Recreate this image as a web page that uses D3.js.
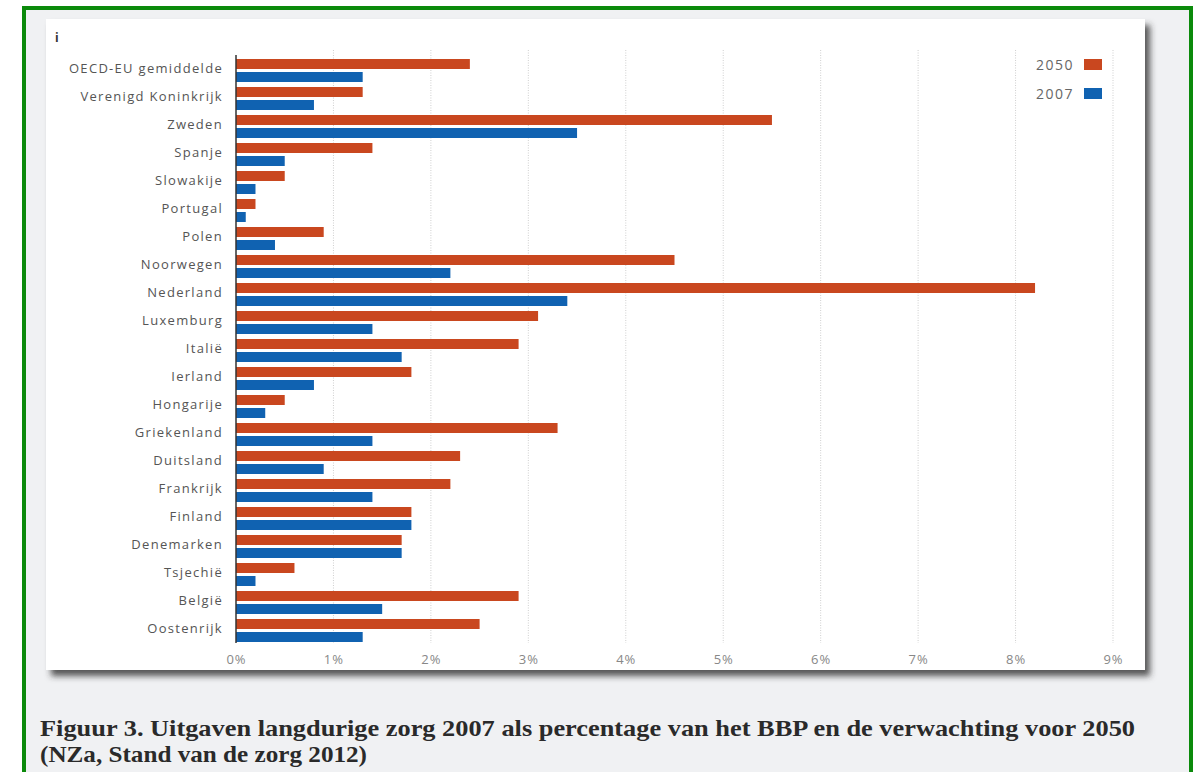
<!DOCTYPE html>
<html>
<head>
<meta charset="utf-8">
<script src="https://cdn.jsdelivr.net/npm/d3@7"></script>
<style>
  body { margin: 0; background: #fff; }
  svg { display: block; }
</style>
</head>
<body>
<svg id="chart"></svg>
<script>
// Data (percent of GDP)
const countries = [
    'OECD-EU gemiddelde', 'Verenigd Koninkrijk', 'Zweden', 'Spanje', 'Slowakije',
    'Portugal', 'Polen', 'Noorwegen', 'Nederland', 'Luxemburg', 'Italië', 'Ierland',
    'Hongarije', 'Griekenland', 'Duitsland', 'Frankrijk', 'Finland', 'Denemarken',
    'Tsjechië', 'België', 'Oostenrijk'
];
const values2050 = [2.4, 1.3, 5.5, 1.4, 0.5, 0.2, 0.9, 4.5, 8.2, 3.1, 2.9, 1.8, 0.5, 3.3, 2.3, 2.2, 1.8, 1.7, 0.6, 2.9, 2.5];
const values2007 = [1.3, 0.8, 3.5, 0.5, 0.2, 0.1, 0.4, 2.2, 3.4, 1.4, 1.7, 0.8, 0.3, 1.4, 0.9, 1.4, 1.8, 1.7, 0.2, 1.5, 1.3];
const ticks = [0, 1, 2, 3, 4, 5, 6, 7, 8, 9];
const seriesNames = ['2050', '2007'];
const captionLines = [
    'Figuur 3. Uitgaven langdurige zorg 2007 als percentage van het BBP en de verwachting voor 2050',
    '(NZa, Stand van de zorg 2012)'
];
const captionWidths = [1095, 327];

const width = 1198, height = 772;
const orange = '#c9471f', blue = '#1062b1';
const labelFont = 'Open Sans, sans-serif';

const svg = d3.select('#chart').attr('width', width).attr('height', height);

// Drop shadow for the white panel
const defs = svg.append('defs');
const shadow = defs.append('filter').attr('id', 'shadow')
    .attr('x', '-5%').attr('y', '-5%').attr('width', '115%').attr('height', '115%');
shadow.append('feDropShadow')
    .attr('dx', 5).attr('dy', 6).attr('stdDeviation', 3)
    .attr('flood-color', '#333').attr('flood-opacity', 0.8);

// Green frame with light grey fill
svg.append('rect')
    .attr('x', 24).attr('y', 8).attr('width', 1167).attr('height', 800)
    .attr('fill', '#f0f1f3').attr('stroke', '#0b8a0b').attr('stroke-width', 4);

// White panel
svg.append('rect')
    .attr('x', 46).attr('y', 19).attr('width', 1099).attr('height', 651)
    .attr('fill', '#fff').attr('filter', 'url(#shadow)');

svg.append('text')
    .attr('x', 55).attr('y', 42)
    .attr('font-family', labelFont).attr('font-size', 12).attr('font-weight', 'bold')
    .attr('fill', '#333').text('i');

// Scales
const x = d3.scaleLinear().domain([0, 9]).range([236, 1113]);
const y = d3.scaleBand().domain(countries).range([55, 55 + countries.length * 28]);

// Dotted gridlines
svg.append('g')
    .selectAll('line')
    .data(ticks.slice(1))
    .enter()
    .append('line')
    .attr('x1', d => x(d)).attr('x2', d => x(d))
    .attr('y1', 50).attr('y2', 643)
    .attr('stroke', '#cfcfcf').attr('stroke-width', 1).attr('stroke-dasharray', '1,1.5');

// Bars
const bars = svg.append('g');
bars.selectAll('rect.b2050')
    .data(countries)
    .enter()
    .append('rect')
    .attr('class', 'b2050')
    .attr('x', x(0))
    .attr('y', d => y(d) + 4)
    .attr('width', (d, i) => x(values2050[i]) - x(0))
    .attr('height', 10)
    .attr('fill', orange);

bars.selectAll('rect.b2007')
    .data(countries)
    .enter()
    .append('rect')
    .attr('class', 'b2007')
    .attr('x', x(0))
    .attr('y', d => y(d) + 17)
    .attr('width', (d, i) => x(values2007[i]) - x(0))
    .attr('height', 10)
    .attr('fill', blue);

// Vertical baseline
svg.append('line')
    .attr('x1', x(0)).attr('x2', x(0))
    .attr('y1', 55).attr('y2', 643)
    .attr('stroke', '#333').attr('stroke-width', 1.5);

// Category labels
const yAxis = svg.append('g')
    .attr('transform', `translate(${x(0)},0)`)
    .call(d3.axisLeft(y).tickSize(0).tickPadding(13));
yAxis.select('.domain').remove();
yAxis.selectAll('text')
    .attr('font-family', labelFont).attr('font-size', 13)
    .attr('letter-spacing', '1.3px')
    .attr('fill', '#555');

// X tick labels
const xAxis = svg.append('g')
    .attr('transform', 'translate(0,652)')
    .call(d3.axisBottom(x).tickValues(ticks).tickSize(0).tickFormat(d => d + '%'));
xAxis.select('.domain').remove();
xAxis.selectAll('text')
    .attr('font-family', labelFont).attr('font-size', 13)
    .attr('letter-spacing', '1px')
    .attr('fill', '#888');

// Legend
const legend = svg.append('g')
    .selectAll('g')
    .data(seriesNames)
    .enter()
    .append('g')
    .attr('transform', (d, i) => `translate(0,${65 + i * 29})`);
legend.append('text')
    .attr('x', 1074).attr('dy', '0.35em').attr('text-anchor', 'end')
    .attr('font-family', labelFont).attr('font-size', 14)
    .attr('letter-spacing', '1.5px')
    .attr('fill', '#666').text(d => d);
legend.append('rect')
    .attr('x', 1084).attr('y', -6).attr('width', 18).attr('height', 11)
    .attr('fill', (d, i) => i === 0 ? orange : blue);

// Caption
svg.append('g')
    .selectAll('text')
    .data(captionLines)
    .enter()
    .append('text')
    .attr('x', 40)
    .attr('y', (d, i) => 736 + i * 26)
    .attr('font-family', 'Liberation Serif, serif').attr('font-size', 24).attr('font-weight', 'bold')
    .attr('textLength', (d, i) => captionWidths[i])
    .attr('lengthAdjust', 'spacingAndGlyphs')
    .attr('fill', '#2a2a2a')
    .text(d => d);
</script>
</body>
</html>
